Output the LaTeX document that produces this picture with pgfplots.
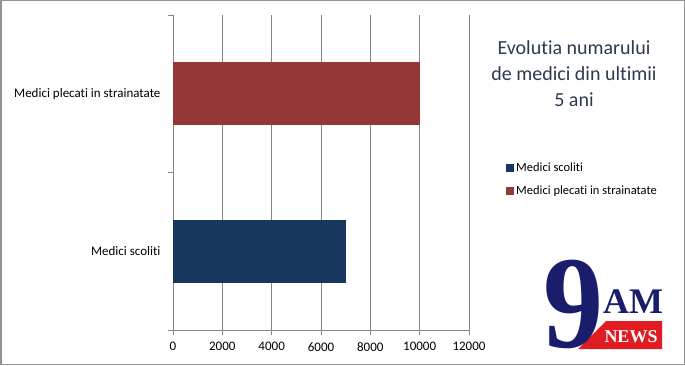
\documentclass[border=0pt]{standalone}
\usepackage{pgfplots}
\pgfplotsset{compat=1.18}
\usepackage{fontspec}
\setmainfont{Carlito}[RawFeature=-liga]
\newfontfamily\logofont{Liberation Serif}
\definecolor{barblue}{HTML}{17375E}
\definecolor{barred}{HTML}{953735}
\definecolor{gridgray}{HTML}{868686}
\definecolor{titlecol}{HTML}{2B3A4E}
\definecolor{logonavy}{HTML}{1A1C6C}
\definecolor{logored}{HTML}{E11B22}
\begin{document}
\begin{tikzpicture}[x=1pt,y=1pt]
\useasboundingbox (0,0) rectangle (685,365);
\draw[gray!85, line width=1.5pt] (0.75,0.75) rectangle (684.25,364.25);
\begin{axis}[
  at={(173pt,35pt)}, anchor=south west,
  scale only axis, width=296pt, height=315pt,
  xmin=0, xmax=12000, ymin=0, ymax=2,
  xtick={0,2000,4000,6000,8000,10000,12000},
  scaled x ticks=false,
  /pgf/number format/1000 sep={},
  /pgf/number format/assume math mode=true,
  ytick={0.5,1.5},
  yticklabels={Medici scoliti, Medici plecati in strainatate},
  minor ytick={0,1,2},
  axis x line*=bottom, axis y line*=left,
  axis line style={gridgray, line width=0.8pt, -},
  xmajorgrids, major grid style={gridgray, line width=0.8pt},
  tick align=outside,
  major tick length=5pt, minor tick length=5pt,
  tick style={gridgray, line width=0.8pt},
  every major y tick/.append style={draw=none},
  ticklabel style={font=\fontsize{13}{15}\selectfont, text=black},
  xticklabel style={yshift=-4pt},
  yticklabel style={xshift=-4pt},
  xbar, bar width=63pt, bar shift=0pt,
  legend style={at={(1.125,0.478)}, anchor=west, draw=none, fill=none,
    font=\fontsize{12.5}{14}\selectfont, row sep=8pt, inner sep=0pt},
  legend cell align=left,
  legend image code/.code={\fill[#1] (0pt,-4pt) rectangle (8pt,4pt);},
]
\addplot[fill=barblue, draw=none] coordinates {(7000,0.5)};
\addlegendentry{Medici scoliti}
\addplot[fill=barred, draw=none] coordinates {(10000,1.5)};
\addlegendentry{Medici plecati in strainatate}
\end{axis}
\node[align=center, text=titlecol, font=\fontsize{20}{26}\selectfont] at (574,291)
  {Evolutia numarului\\de medici din ultimii\\5 ani};
% logo
\fill[logored] (606,44) -- (662,44) -- (662,16) -- (578,16) -- cycle;
\node[anchor=base, text=logonavy, font=\logofont\bfseries\fontsize{120}{120}\selectfont, inner sep=0pt] at (573,18) {\scalebox{1}[1.1]{9}};
\node[anchor=base, text=logonavy, font=\logofont\bfseries\fontsize{36}{36}\selectfont, inner sep=0pt] at (633,52) {AM};
\node[anchor=base, text=white, font=\logofont\bfseries\fontsize{18}{18}\selectfont, inner sep=0pt] at (631,23) {NEWS};
\end{tikzpicture}
\end{document}
